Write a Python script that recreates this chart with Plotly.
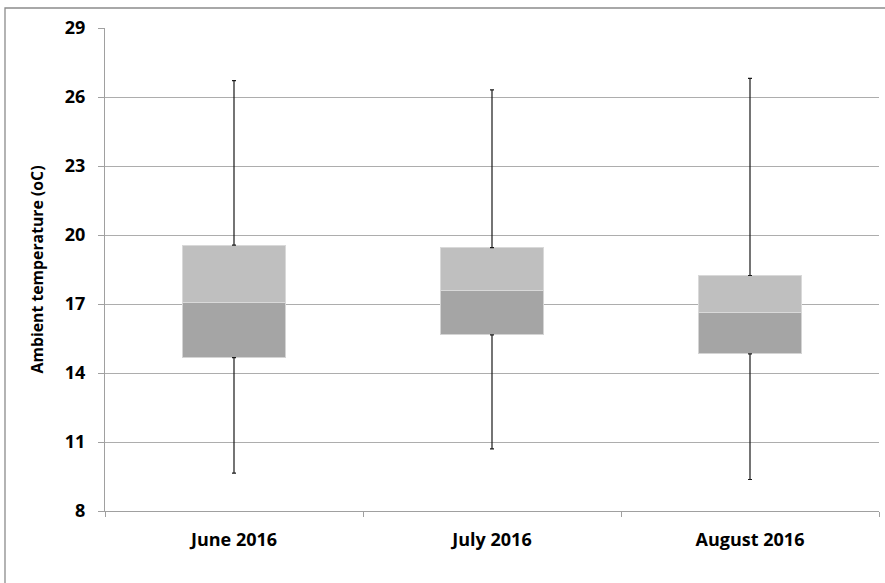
import plotly.graph_objects as go

months = ["June 2016", "July 2016", "August 2016"]
t_min = [9.65, 10.70, 9.37]
t_q1 = [14.67, 15.66, 14.83]
t_median = [17.05, 17.58, 16.63]
t_q3 = [19.56, 19.45, 18.24]
t_max = [26.71, 26.31, 26.81]
y_ticks = [8, 11, 14, 17, 20, 23, 26, 29]

lower = [m - q for m, q in zip(t_median, t_q1)]
upper = [q - m for q, m in zip(t_q3, t_median)]
whisk_up = [mx - q for mx, q in zip(t_max, t_q3)]
whisk_dn = [q - mn for q, mn in zip(t_q1, t_min)]

FONT = "Open Sans"
fig = go.Figure()
fig.add_trace(go.Bar(x=months, y=t_q1, marker=dict(color="rgba(0,0,0,0)", line=dict(width=0)),
                     width=0.4, showlegend=False, hoverinfo="skip"))
fig.add_trace(go.Bar(x=months, y=lower, marker=dict(color="#A5A5A5", line=dict(color="#D4D4D4", width=1)),
                     width=0.4, showlegend=False))
fig.add_trace(go.Bar(x=months, y=upper, marker=dict(color="#BFBFBF", line=dict(color="#D9D9D9", width=1)),
                     width=0.4, showlegend=False))
fig.add_trace(go.Scatter(x=months, y=t_q3, mode="markers", marker=dict(size=1, color="rgba(0,0,0,0)"),
                         error_y=dict(type="data", array=whisk_up, arrayminus=[0]*3, symmetric=False,
                                      color="#1a1a1a", thickness=1.2, width=2), showlegend=False))
fig.add_trace(go.Scatter(x=months, y=t_q1, mode="markers", marker=dict(size=1, color="rgba(0,0,0,0)"),
                         error_y=dict(type="data", array=[0]*3, arrayminus=whisk_dn, symmetric=False,
                                      color="#1a1a1a", thickness=1.2, width=2), showlegend=False))

fig.update_layout(
    width=885, height=583, barmode="stack",
    margin=dict(l=105, r=6, t=28, b=72, autoexpand=False),
    paper_bgcolor="white", plot_bgcolor="white",
    font=dict(family=FONT, color="#000000"),
    xaxis=dict(type="category", tickson="boundaries", ticks="outside", ticklen=5,
               tickcolor="#A0A0A0", tickwidth=1, showline=True, linecolor="#A0A0A0", linewidth=1.3,
               showgrid=False, tickfont=dict(family=FONT, size=18, color="#000", weight="bold"),
               ticklabelstandoff=12, automargin=False),
    yaxis=dict(range=[8, 29], tickvals=y_ticks, ticktext=[str(v) for v in y_ticks],
               ticks="outside", ticklen=6, tickcolor="#A0A0A0", tickwidth=1.3,
               showline=True, linecolor="#A0A0A0", linewidth=1.3,
               showgrid=True, gridcolor="#ADADAD", gridwidth=1.3, zeroline=False,
               tickfont=dict(family=FONT, size=18, color="#000", weight="bold"), ticklabelstandoff=9,
               automargin=False,
               title=dict(text="<b>Ambient temperature (oC)</b>", font=dict(family=FONT, size=15.8, color="#000"),
                          standoff=17)),
    shapes=[dict(type="rect", xref="paper", yref="paper",
                 x0=(5 - 105) / 774, x1=(890 - 105) / 774,
                 y0=-(600 - 511) / 483, y1=1 + 20 / 483,
                 line=dict(color="#8C8C8C", width=1.3), fillcolor="rgba(0,0,0,0)", layer="below")],
)
fig.write_html("out.html", config={"displayModeBar": False},
               post_script="document.body.style.margin='0';document.body.style.overflow='hidden';")
